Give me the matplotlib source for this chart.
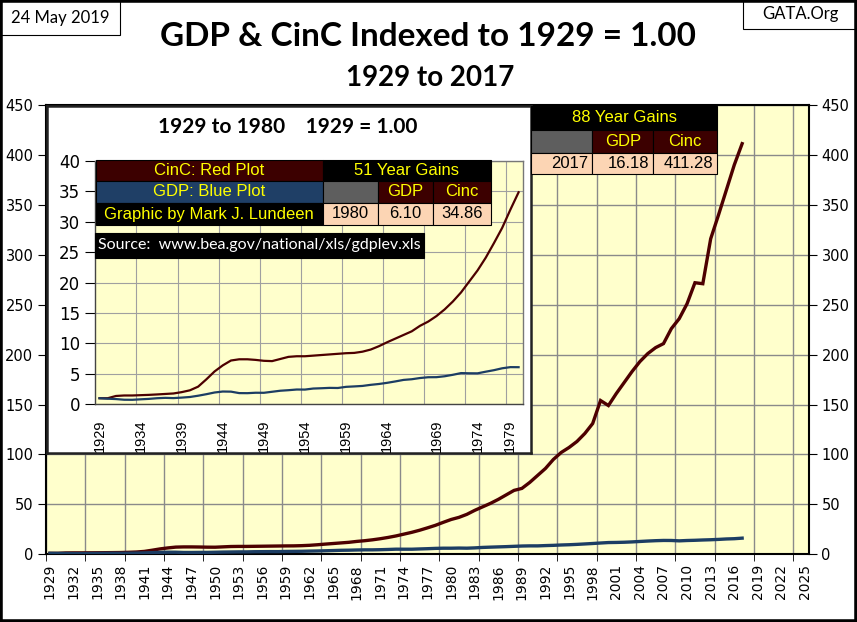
import numpy as np
import matplotlib.pyplot as plt
from matplotlib.patches import Rectangle

plt.rcParams['font.family'] = ['DejaVu Sans']

# ---- data (index, 1929 = 1.00) ----
years = list(range(1929, 2018))

cinc = [1.00, 1.00, 1.37, 1.45, 1.45, 1.50, 1.55, 1.62, 1.70, 1.78,
        2.00, 2.30, 2.90, 4.10, 5.40, 6.40, 7.20, 7.40, 7.40, 7.30,
        7.15, 7.10, 7.45, 7.80, 7.90, 7.90, 8.00, 8.10, 8.20, 8.30,
        8.40, 8.45, 8.65, 9.00, 9.55, 10.20, 10.80, 11.40, 12.00, 12.90,
        13.60, 14.50, 15.60, 16.90, 18.40, 20.20, 22.00, 24.10, 26.50, 29.00,
        32.00, 34.86, 37.0, 40.0, 44.0, 47.5, 51.0, 55.0, 59.5, 64.0,
        66.0, 72.0, 79.0, 86.0, 95.0, 102.0, 107.0, 113.0, 121.0, 131.0,
        154.0, 149.0, 161.0, 172.0, 183.0, 193.0, 201.0, 207.0, 211.0, 226.0,
        236.0, 251.0, 272.0, 271.0, 316.0, 340.0, 365.0, 390.0, 411.28]

gdp = [1.00, 0.92, 0.86, 0.75, 0.74, 0.82, 0.89, 1.00, 1.06, 1.02,
       1.10, 1.20, 1.41, 1.66, 1.94, 2.10, 2.08, 1.84, 1.83, 1.90,
       1.89, 2.06, 2.23, 2.32, 2.43, 2.42, 2.59, 2.64, 2.70, 2.68,
       2.87, 2.94, 3.02, 3.20, 3.34, 3.53, 3.76, 4.01, 4.12, 4.32,
       4.45, 4.46, 4.61, 4.85, 5.13, 5.10, 5.09, 5.36, 5.61, 5.92,
       6.11, 6.10, 6.25, 6.13, 6.42, 6.88, 7.17, 7.42, 7.67, 7.99,
       8.29, 8.44, 8.43, 8.73, 8.97, 9.33, 9.58, 9.94, 10.37, 10.82,
       11.31, 11.76, 11.88, 12.08, 12.41, 12.86, 13.28, 13.63, 13.88, 13.84,
       13.47, 13.82, 14.03, 14.34, 14.58, 14.93, 15.36, 15.62, 16.18]

inset_end = 1980
inset_tick_pos = [1929, 1934, 1939, 1944, 1949, 1954, 1959, 1964, 1970, 1975, 1979]
inset_tick_lab = ['1929', '1934', '1939', '1944', '1949', '1954', '1959', '1964', '1969', '1974', '1979']

gain51 = ['1980', '6.10', '34.86']
gain88 = ['2017', '16.18', '411.28']

RED = '#4d0000'
BLUE = '#1c3d63'
CELL_RED = '#3c0000'
CELL_BLUE = '#1f3f66'
GRAY = '#5e5e5e'
PEACH = '#fcd5b4'
YEL = '#ffff00'
PLOT_BG = '#ffffcc'
GRID = '#8a8a8a'

W, H = 857, 622
fig = plt.figure(figsize=(W / 100, H / 100), dpi=100)


def box(x0, y0, x1, y1):
    # pixel box (top-left origin) -> figure fraction rect
    return [x0 / W, 1 - y1 / H, (x1 - x0) / W, (y1 - y0) / H]


def cell(x0, y0, x1, y1, fc, text='', tc=YEL, ha='center', size=12, fam='Liberation Sans', ec='black'):
    fig.add_artist(Rectangle((x0 / W, 1 - y1 / H), (x1 - x0) / W, (y1 - y0) / H,
                             transform=fig.transFigure, facecolor=fc, edgecolor=ec,
                             lw=0.8, zorder=10))
    if text:
        if ha == 'right':
            tx = (x1 - 4) / W
        elif ha == 'left':
            tx = (x0 + 4) / W
        else:
            tx = (x0 + x1) / 2 / W
        fig.text(tx, 1 - (y0 + y1) / 2 / H, text, color=tc, ha=ha, va='center',
                 fontsize=size, family=fam, zorder=11)


# ---- main chart ----
ax = fig.add_axes(box(46, 105, 809, 554.3))
ax.set_facecolor(PLOT_BG)
ax.plot(years, cinc, color=RED, lw=2.4, solid_joinstyle='miter', zorder=3)
ax.plot(years, gdp, color=BLUE, lw=2.4, zorder=3)
ax.set_xlim(1928.5, 2025.5)
ax.set_ylim(0, 450)
ax.set_yticks(np.arange(0, 451, 50))
ax.set_xticks(np.arange(1929, 2026, 3))
ax.set_xticks(np.arange(1928.5, 2026, 5), minor=True)
ax.tick_params(axis='x', which='major', length=0, pad=7, labelrotation=90, labelsize=10)
ax.tick_params(axis='x', which='minor', length=5, direction='out')
ax.tick_params(axis='y', length=6, direction='out', labelsize=10.5, left=True, right=True,
               labelleft=True, labelright=True, pad=3)
ax.grid(True, axis='x', which='minor', color=GRID, lw=1, zorder=1)
ax.grid(True, axis='y', which='major', color=GRID, lw=1, zorder=1)
ax.grid(False, axis='x', which='major')
for s in ax.spines.values():
    s.set_linewidth(1.5)
    s.set_color('black')

# ---- inset frame ----
frame = fig.add_axes(box(46.7, 106, 531, 453))
frame.set_facecolor('white')
frame.set_xticks([])
frame.set_yticks([])
for s in frame.spines.values():
    s.set_linewidth(1.8)
    s.set_color('#222222')
frame.set_zorder(4)
fig.text(288 / W, 1 - 127 / H, '1929 to 1980    1929 = 1.00', ha='center', va='center',
         fontsize=15, weight='bold', family='Lato', zorder=6)

n = inset_end - 1929 + 1
ins = fig.add_axes(box(95.4, 161, 522.7, 404.3))
ins.set_zorder(5)
ins.set_facecolor(PLOT_BG)
ins.plot(years[:n], cinc[:n], color=RED, lw=1.6, zorder=3)
ins.plot(years[:n], gdp[:n], color=BLUE, lw=1.6, zorder=3)
ins.set_xlim(1928.5, inset_end + 0.5)
ins.set_ylim(0, 40)
ins.set_yticks(np.arange(0, 41, 5))
ins.set_xticks(inset_tick_pos)
ins.set_xticklabels(inset_tick_lab, family='Liberation Sans')
ins.set_xticks(np.arange(1933.5, inset_end + 0.5, 5), minor=True)
ins.tick_params(axis='x', which='major', length=0, pad=11, labelrotation=90, labelsize=10.5)
ins.tick_params(axis='x', which='minor', length=0)
ins.tick_params(axis='y', length=7, direction='out', labelsize=12, pad=4)
ins.grid(True, axis='x', which='minor', color='#a0a0a0', lw=0.8, zorder=1)
ins.grid(True, axis='y', color='#a0a0a0', lw=0.8, zorder=1)
ins.grid(False, axis='x', which='major')
for k, s in ins.spines.items():
    s.set_color('#777777' if k in ('top', 'right') else '#444444')
    s.set_linewidth(1.0)

# ---- inset tables ----
cell(95.7, 159.7, 322.7, 181, CELL_RED, 'CinC: Red Plot')
cell(95.7, 181, 322.7, 203, CELL_BLUE, 'GDP: Blue Plot')
cell(95.7, 203, 322.7, 225, 'black', 'Graphic by Mark J. Lundeen')
cell(322.7, 159.7, 491, 181, 'black', '51 Year Gains')
cell(322.7, 181, 377.7, 203, GRAY)
cell(377.7, 181, 433, 203, CELL_RED, 'GDP')
cell(433, 181, 491, 203, CELL_RED, 'Cinc')
cell(322.7, 203, 377.7, 225, PEACH, gain51[0], tc='black')
cell(377.7, 203, 433, 225, PEACH, gain51[1], tc='black')
cell(433, 203, 491, 225, PEACH, gain51[2], tc='black')
cell(95, 233, 424, 257.7, 'black', 'Source:  www.bea.gov/national/xls/gdplev.xls',
     tc='white', size=11.5, fam='Lato')

# ---- main table ----
cell(530.7, 106, 717.3, 130, 'black', '88 Year Gains')
cell(530.7, 130, 592.3, 152.7, GRAY)
cell(592.3, 130, 653.3, 152.7, CELL_RED, 'GDP')
cell(653.3, 130, 717.3, 152.7, CELL_RED, 'Cinc')
cell(530.7, 152.7, 592.3, 174, PEACH, gain88[0], tc='black', ha='right')
cell(592.3, 152.7, 653.3, 174, PEACH, gain88[1], tc='black', ha='right')
cell(653.3, 152.7, 717.3, 174, PEACH, gain88[2], tc='black', ha='right')

# ---- titles and corner boxes ----
fig.text(428 / W, 1 - 36 / H, 'GDP & CinC Indexed to 1929 = 1.00', ha='center', va='center',
         fontsize=24, weight='bold', family='Lato')
fig.text(430 / W, 1 - 78 / H, '1929 to 2017', ha='center', va='center',
         fontsize=20, weight='bold', family='Lato')
cell(0, 0, 120, 35, 'white', '24 May 2019', tc='black', size=12, fam='Lato')
cell(743, 0, 857, 29, 'white', 'GATA.Org', tc='black', size=12, fam='Lato')
fig.add_artist(Rectangle((0, 0), 1, 1, transform=fig.transFigure, fill=False,
                         edgecolor='black', lw=4, zorder=20))

fig.savefig('out.png', dpi=100)
